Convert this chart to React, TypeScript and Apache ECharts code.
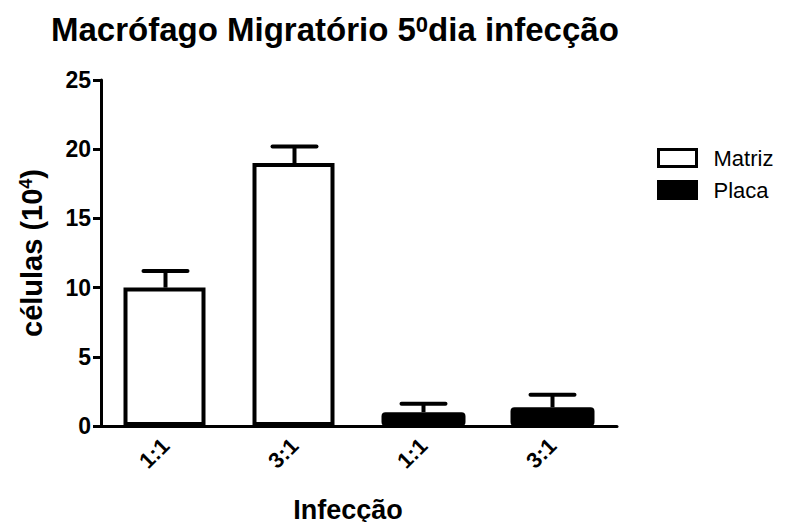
import React, { useEffect, useRef } from "react";
import * as echarts from "echarts";

const categories = ["1:1", "3:1", "1:1", "3:1"];
const matrizValues: (number | null)[] = [10, 19, null, null];
const placaValues: (number | null)[] = [null, null, 1.0, 1.35];
const matrizErrors: (number | null)[] = [1.2, 1.2, null, null];
const placaErrors: (number | null)[] = [null, null, 0.6, 0.9];
const yMin = 0;
const yMax = 25;
const yInterval = 5;

const FONT = "Liberation Sans, Arial, sans-serif";

function errorData(values: (number | null)[], errs: (number | null)[]) {
  const out: number[][] = [];
  values.forEach((v, i) => {
    const e = errs[i];
    if (v != null && e != null) out.push([i, v, v + e]);
  });
  return out;
}

export default function App() {
  const ref = useRef<HTMLDivElement>(null);
  useEffect(() => {
    if (!ref.current) return;
    const chart = echarts.init(ref.current, null, { renderer: "svg" });
    const renderErr = (params: any, api: any) => {
      const x = api.value(0);
      const v = api.value(1);
      const u = api.value(2);
      const p0 = api.coord([x, v]);
      const p1 = api.coord([x, u]);
      const half = 22;
      return {
        type: "group",
        children: [
          {
            type: "line",
            shape: { x1: p0[0], y1: p0[1], x2: p1[0], y2: p1[1] },
            style: { stroke: "#000", lineWidth: 4 },
          },
          {
            type: "line",
            shape: { x1: p1[0] - half, y1: p1[1], x2: p1[0] + half, y2: p1[1] },
            style: { stroke: "#000", lineWidth: 4, lineCap: "round" },
          },
        ],
      };
    };
    chart.setOption({
      animation: false,
      backgroundColor: "#fff",
      textStyle: { fontFamily: FONT },
      title: {
        text: "Macrófago Migratório 5{sup|0}dia infecção",
        left: 46,
        top: 8,
        textStyle: {
          fontFamily: FONT,
          fontSize: 33,
          fontWeight: "bold",
          color: "#000",
          rich: {
            sup: {
              fontFamily: FONT,
              fontSize: 22,
              fontWeight: "bold",
              color: "#000",
              verticalAlign: "top",
              lineHeight: 22,
            },
          },
        },
      },
      legend: {
        orient: "vertical",
        left: 652,
        top: 142,
        icon: "rect",
        itemWidth: 38,
        itemHeight: 17,
        itemGap: 10,
        itemStyle: { borderColor: "#000", borderWidth: 3 },
        data: ["Matriz", "Placa"],
        textStyle: { fontFamily: FONT, fontSize: 22, color: "#000", padding: [0, 0, 0, 12] },
      },
      grid: { left: 101, top: 80, width: 516, height: 346 },
      xAxis: {
        type: "category",
        data: categories,
        name: "Infecção",
        nameLocation: "middle",
        nameGap: 70,
        z: 10,
        nameTextStyle: {
          fontFamily: FONT,
          fontSize: 27,
          fontWeight: "bold",
          color: "#000",
          padding: [0, 22, 0, 0],
        },
        axisLine: { lineStyle: { color: "#000", width: 3 } },
        axisTick: { alignWithLabel: true, length: 8, lineStyle: { color: "#000", width: 3 } },
        axisLabel: {
          rotate: 45,
          margin: 16,
          fontFamily: FONT,
          fontSize: 22,
          fontWeight: "bold",
          color: "#000",
        },
      },
      yAxis: {
        type: "value",
        min: yMin,
        max: yMax,
        interval: yInterval,
        name: "células (10{sup|4})",
        nameLocation: "middle",
        nameGap: 55,
        nameTextStyle: {
          fontFamily: FONT,
          fontSize: 29,
          fontWeight: "bold",
          color: "#000",
          rich: {
            sup: {
              fontFamily: FONT,
              fontSize: 18,
              fontWeight: "bold",
              color: "#000",
              verticalAlign: "top",
              lineHeight: 18,
            },
          },
        },
        splitLine: { show: false },
        axisLine: { show: true, lineStyle: { color: "#000", width: 3 } },
        axisTick: { show: true, length: 8, lineStyle: { color: "#000", width: 3 } },
        axisLabel: {
          margin: 10,
          fontFamily: FONT,
          fontSize: 23,
          fontWeight: "bold",
          color: "#000",
        },
      },
      series: [
        {
          name: "Matriz",
          type: "bar",
          data: matrizValues.map((v) => (v == null ? "-" : v)),
          barWidth: 82,
          barGap: "-100%",
          itemStyle: { color: "#fff", borderColor: "#000", borderWidth: 4 },
        },
        {
          name: "Placa",
          type: "bar",
          data: placaValues.map((v) => (v == null ? "-" : v)),
          barWidth: 84,
          barGap: "-100%",
          itemStyle: { color: "#000", borderColor: "#000", borderWidth: 4, borderRadius: 2 },
        },
        {
          type: "custom",
          renderItem: renderErr,
          data: errorData(matrizValues, matrizErrors),
          encode: { x: 0, y: [1, 2] },
          z: 5,
          silent: true,
        },
        {
          type: "custom",
          renderItem: renderErr,
          data: errorData(placaValues, placaErrors),
          encode: { x: 0, y: [1, 2] },
          z: 5,
          silent: true,
        },
      ],
    });
    return () => chart.dispose();
  }, []);
  return <div ref={ref} style={{ width: 791, height: 530, margin: -8 }} />;
}
